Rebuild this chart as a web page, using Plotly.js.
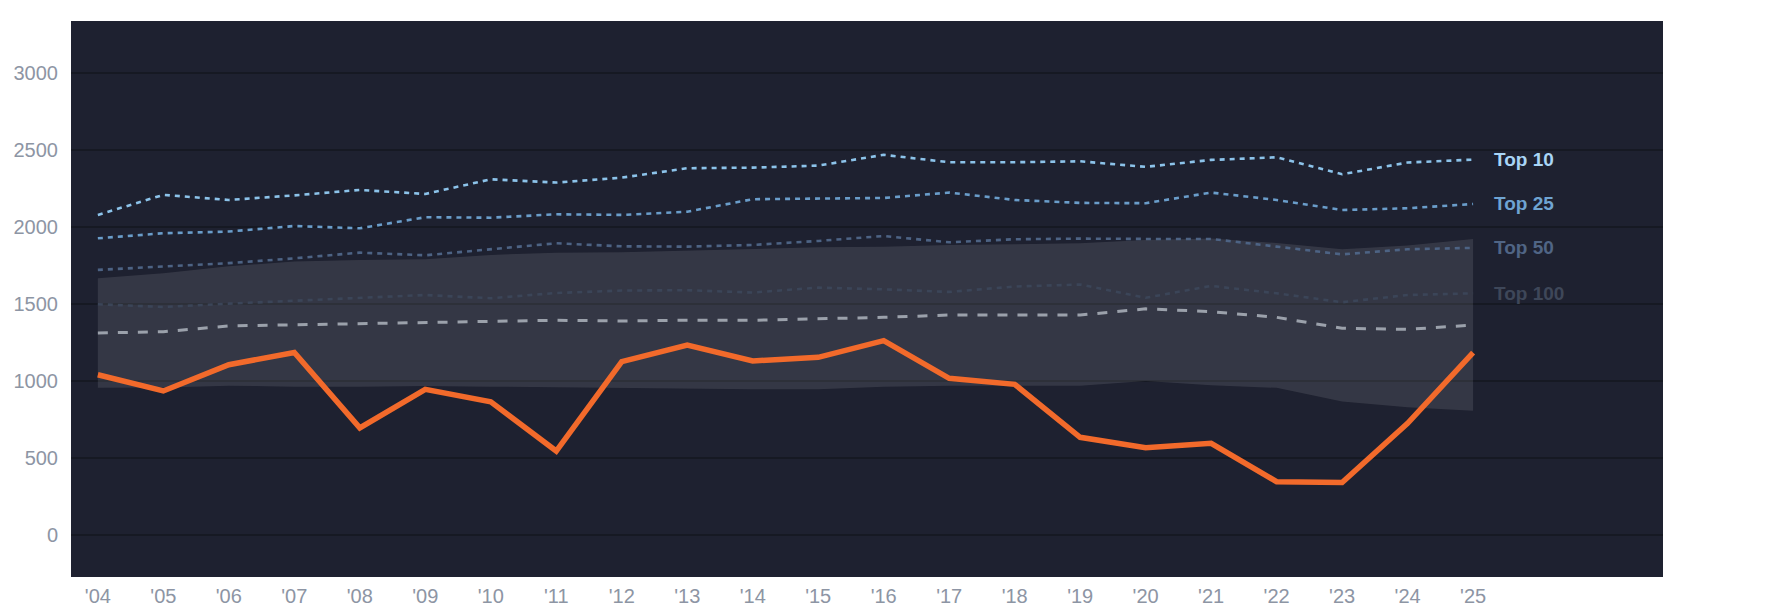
<!DOCTYPE html>
<html>
<head>
<meta charset="utf-8">
<script src="https://cdn.plot.ly/plotly-3.0.1.min.js"></script>
<style>
  html, body { margin: 0; padding: 0; background: #ffffff; }
  #chart { width: 1785px; height: 614px; }
</style>
</head>
<body>
<div id="chart"></div>
<script>
// seasons on the x axis
const years = ["'04", "'05", "'06", "'07", "'08", "'09", "'10", "'11", "'12", "'13", "'14",
               "'15", "'16", "'17", "'18", "'19", "'20", "'21", "'22", "'23", "'24", "'25"];

// highlighted series (orange)
const highlight = [1040, 935, 1105, 1185, 695, 945, 865, 545, 1125, 1233, 1130,
                   1153, 1262, 1017, 978, 634, 567, 595, 346, 340, 725, 1184];

// reference tiers (dotted)
const top10  = [2078, 2208, 2175, 2205, 2240, 2214, 2309, 2288, 2320, 2381, 2385,
                2398, 2468, 2420, 2420, 2426, 2390, 2435, 2452, 2342, 2418, 2437];
const top25  = [1926, 1959, 1970, 2006, 1991, 2063, 2060, 2082, 2078, 2099, 2180,
                2186, 2188, 2223, 2175, 2156, 2154, 2223, 2175, 2110, 2121, 2149];
const top50  = [1721, 1742, 1765, 1796, 1833, 1816, 1857, 1894, 1874, 1872, 1883,
                1909, 1941, 1900, 1920, 1924, 1922, 1922, 1872, 1822, 1855, 1864];
const top100 = [1498, 1480, 1502, 1521, 1537, 1558, 1537, 1571, 1587, 1589, 1574,
                1606, 1595, 1578, 1613, 1626, 1540, 1617, 1569, 1511, 1558, 1569];

// league median (dashed gray)
const median = [1311, 1320, 1357, 1364, 1370, 1376, 1387, 1394, 1389, 1394, 1394,
                1402, 1413, 1428, 1428, 1428, 1468, 1450, 1413, 1342, 1335, 1363];

// shaded range
const bandHigh = [1666, 1699, 1745, 1775, 1786, 1790, 1818, 1833, 1835, 1846, 1855,
                  1868, 1872, 1883, 1887, 1894, 1915, 1925, 1895, 1855, 1880, 1922];
const bandLow  = [956, 958, 969, 963, 963, 967, 963, 958, 952, 948, 946,
                  946, 963, 969, 967, 969, 1000, 972, 955, 866, 829, 807];

const tierNames  = ['Top 10', 'Top 25', 'Top 50', 'Top 100'];
const tierData   = [top10, top25, top50, top100];
const tierLine   = ['#8cc3ea', '#6a9dca', '#4d6384', '#3b4558'];
const tierLabel  = ['#a9d5f6', '#6fa4d2', '#506585', '#3e4759'];

const xs = years.map((_, i) => i);
const last = xs.length - 1;

const traces = [
    {
        x: xs, y: bandLow, type: 'scatter', mode: 'lines',
        line: { width: 0 }, hoverinfo: 'skip', showlegend: false
    },
    {
        x: xs, y: bandHigh, type: 'scatter', mode: 'lines',
        line: { width: 0 }, fill: 'tonexty',
        fillcolor: 'rgba(255,255,255,0.1)', hoverinfo: 'skip', showlegend: false
    }
];

tierData.slice().reverse().forEach((vals, k) => {
    const i = tierData.length - 1 - k;
    traces.push({
        x: xs, y: vals, type: 'scatter', mode: 'lines', name: tierNames[i],
        line: { color: tierLine[i], width: 2.6, dash: '5px,5px' }
    });
});

traces.push({
    x: xs, y: median, type: 'scatter', mode: 'lines', name: 'Median',
    line: { color: '#9ba1ab', width: 3, dash: '10px,10px' }
});

traces.push({
    x: xs, y: highlight, type: 'scatter', mode: 'lines', name: 'Team',
    line: { color: '#f26a2b', width: 5.5 }
});

const annotations = tierNames.map((name, i) => ({
    x: last, y: tierData[i][last], xref: 'x', yref: 'y',
    text: '<b>' + name + '</b>', showarrow: false,
    xanchor: 'left', yanchor: 'middle', xshift: 19,
    font: { family: 'Liberation Sans, Arial, sans-serif', size: 19, color: tierLabel[i] }
}));

const tickFont = { family: 'Liberation Sans, Arial, sans-serif', size: 20, color: '#8d95a4' };

const layout = {
    width: 1785,
    height: 614,
    margin: { l: 71, r: 122, t: 21, b: 37 },
    paper_bgcolor: '#ffffff',
    plot_bgcolor: '#1e2130',
    showlegend: false,
    xaxis: {
        range: [-0.41, 23.9],
        tickvals: xs,
        ticktext: years,
        showgrid: false,
        zeroline: false,
        showline: false,
        ticks: '',
        tickfont: tickFont,
        ticklabelstandoff: 5
    },
    yaxis: {
        range: [-273, 3337],
        tickvals: [0, 500, 1000, 1500, 2000, 2500, 3000],
        showgrid: true,
        gridcolor: '#161923',
        gridwidth: 2.5,
        zeroline: false,
        showline: false,
        ticks: '',
        tickfont: tickFont,
        ticklabelstandoff: 12
    },
    annotations: annotations
};

Plotly.newPlot('chart', traces, layout, { displayModeBar: false, staticPlot: true });
</script>
</body>
</html>
